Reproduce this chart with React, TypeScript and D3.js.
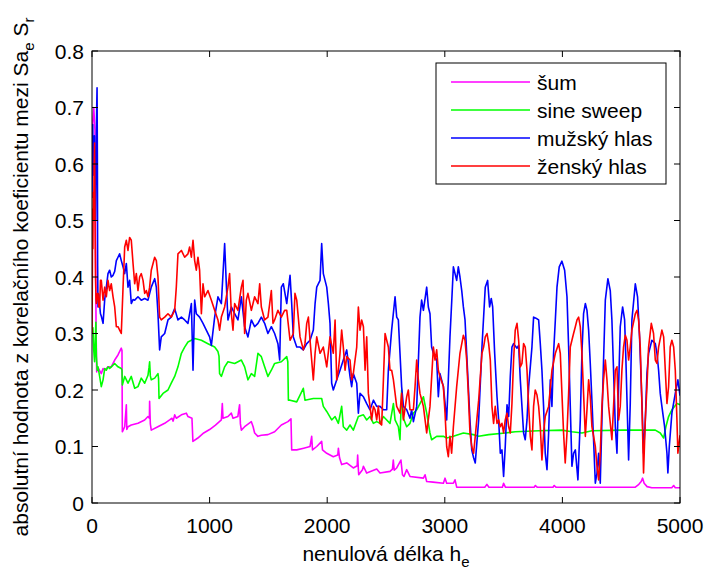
import React from 'react';
import * as d3 from 'd3';

type P = [number, number];

const xTicks = [0, 1000, 2000, 3000, 4000, 5000];
const yTicks = [0, 0.1, 0.2, 0.3, 0.4, 0.5, 0.6, 0.7, 0.8];
const seriesNames = ['šum', 'sine sweep', 'mužský hlas', 'ženský hlas'];
const seriesColors = ['#ff00ff', '#00ff00', '#0000ff', '#ff0000'];

const sumData: P[] = [[0,0.62],[5,0.67],[15,0.70],[25,0.66],[30,0.45],[35,0.30],[40,0.232],[50,0.24],[79,0.229],[94,0.238],[108,0.235],[136,0.241],[164,0.241],[193,0.253],[221,0.262],[249,0.274],[255,0.27],[258,0.126],[278,0.135],[292,0.174],[296,0.13],[306,0.135],[334,0.138],[391,0.141],[448,0.147],[476,0.153],[488,0.15],[490,0.18],[496,0.14],[504,0.129],[560,0.135],[618,0.141],[660,0.147],[680,0.15],[690,0.145],[703,0.156],[717,0.15],[760,0.156],[802,0.159],[816,0.153],[850,0.15],[858,0.109],[900,0.115],[950,0.124],[1000,0.13],[1050,0.138],[1100,0.147],[1108,0.176],[1114,0.15],[1156,0.153],[1185,0.159],[1199,0.15],[1240,0.153],[1255,0.174],[1262,0.14],[1270,0.129],[1298,0.135],[1355,0.144],[1370,0.135],[1383,0.124],[1411,0.118],[1440,0.12],[1496,0.121],[1553,0.126],[1610,0.138],[1666,0.144],[1692,0.149],[1698,0.094],[1741,0.094],[1800,0.097],[1854,0.1],[1868,0.118],[1875,0.094],[1911,0.1],[1953,0.109],[1960,0.094],[1996,0.088],[2052,0.082],[2090,0.085],[2095,0.097],[2105,0.08],[2123,0.068],[2166,0.071],[2222,0.062],[2255,0.066],[2259,0.085],[2265,0.06],[2268,0.05],[2300,0.059],[2308,0.065],[2336,0.053],[2421,0.06],[2449,0.053],[2534,0.056],[2555,0.06],[2562,0.076],[2570,0.058],[2591,0.062],[2627,0.076],[2640,0.05],[2653,0.047],[2676,0.059],[2704,0.047],[2818,0.044],[2832,0.05],[2846,0.038],[2900,0.037],[2988,0.035],[3002,0.044],[3016,0.035],[3073,0.035],[3087,0.041],[3101,0.028],[3340,0.028],[3358,0.033],[3375,0.028],[3490,0.028],[3500,0.035],[3515,0.028],[3760,0.028],[3770,0.031],[3785,0.028],[3920,0.028],[3930,0.031],[3945,0.028],[4620,0.028],[4650,0.033],[4670,0.038],[4682,0.044],[4695,0.035],[4720,0.029],[4760,0.027],[4930,0.027],[4946,0.031],[4960,0.027],[5000,0.027]];

const sineData: P[] = [[0,0.30],[8,0.31],[15,0.27],[22,0.25],[28,0.29],[33,0.32],[37,0.26],[45,0.235],[51,0.241],[65,0.224],[79,0.206],[94,0.218],[108,0.238],[122,0.235],[136,0.241],[150,0.238],[164,0.241],[193,0.247],[221,0.241],[249,0.238],[255,0.235],[258,0.209],[278,0.224],[306,0.212],[334,0.224],[363,0.203],[391,0.206],[419,0.221],[448,0.212],[476,0.226],[485,0.24],[490,0.25],[496,0.225],[504,0.218],[533,0.221],[561,0.229],[566,0.22],[570,0.185],[604,0.194],[646,0.2],[674,0.212],[703,0.224],[731,0.241],[760,0.265],[788,0.276],[816,0.285],[845,0.288],[873,0.291],[930,0.288],[986,0.282],[1043,0.276],[1071,0.268],[1080,0.26],[1085,0.229],[1100,0.224],[1128,0.241],[1156,0.25],[1213,0.247],[1270,0.253],[1298,0.241],[1326,0.218],[1355,0.229],[1383,0.224],[1411,0.265],[1440,0.259],[1468,0.241],[1496,0.224],[1525,0.235],[1553,0.247],[1610,0.25],[1656,0.259],[1665,0.25],[1670,0.182],[1684,0.182],[1741,0.179],[1797,0.203],[1811,0.182],[1882,0.185],[1953,0.185],[1967,0.171],[1996,0.162],[2038,0.147],[2067,0.153],[2095,0.141],[2123,0.171],[2137,0.135],[2166,0.129],[2194,0.138],[2222,0.129],[2265,0.153],[2308,0.156],[2336,0.147],[2364,0.153],[2393,0.141],[2421,0.144],[2449,0.141],[2478,0.153],[2506,0.147],[2534,0.141],[2563,0.176],[2577,0.147],[2605,0.135],[2619,0.112],[2633,0.2],[2648,0.15],[2676,0.135],[2704,0.141],[2733,0.159],[2761,0.165],[2789,0.176],[2818,0.188],[2846,0.159],[2874,0.124],[2888,0.112],[2931,0.118],[2988,0.118],[3016,0.115],[3073,0.118],[3158,0.124],[3243,0.121],[3288,0.118],[3373,0.121],[3514,0.124],[3599,0.126],[3798,0.128],[3996,0.129],[4081,0.126],[4166,0.124],[4251,0.128],[4506,0.129],[4790,0.129],[4832,0.124],[4861,0.115],[4880,0.135],[4903,0.153],[4931,0.165],[4974,0.176],[5000,0.174]];

const muzData: P[] = [[0,0.54],[3,0.62],[6,0.67],[10,0.58],[15,0.6],[20,0.65],[25,0.55],[30,0.5],[35,0.62],[40,0.70],[43,0.735],[46,0.6],[48,0.42],[51,0.347],[58,0.37],[65,0.35],[72,0.335],[80,0.33],[94,0.318],[108,0.36],[122,0.382],[136,0.406],[150,0.412],[164,0.4],[179,0.403],[193,0.41],[207,0.429],[221,0.435],[235,0.441],[249,0.429],[264,0.418],[278,0.406],[292,0.424],[306,0.382],[320,0.394],[334,0.353],[349,0.36],[363,0.359],[391,0.365],[419,0.359],[448,0.362],[476,0.359],[504,0.382],[533,0.397],[547,0.382],[561,0.335],[575,0.271],[589,0.294],[618,0.3],[632,0.312],[646,0.324],[674,0.329],[703,0.344],[731,0.324],[760,0.329],[788,0.324],[816,0.318],[845,0.353],[859,0.235],[873,0.359],[887,0.335],[915,0.329],[944,0.318],[972,0.306],[1000,0.294],[1015,0.279],[1043,0.329],[1071,0.365],[1100,0.353],[1128,0.459],[1142,0.388],[1156,0.324],[1185,0.347],[1213,0.335],[1241,0.324],[1270,0.365],[1298,0.312],[1326,0.294],[1355,0.324],[1383,0.312],[1411,0.318],[1440,0.329],[1468,0.318],[1496,0.3],[1525,0.312],[1553,0.3],[1581,0.282],[1596,0.253],[1610,0.382],[1627,0.388],[1656,0.353],[1684,0.403],[1698,0.353],[1712,0.294],[1741,0.276],[1769,0.276],[1797,0.271],[1826,0.282],[1854,0.288],[1882,0.306],[1897,0.353],[1911,0.382],[1939,0.394],[1953,0.459],[1967,0.406],[1996,0.382],[2010,0.353],[2024,0.318],[2038,0.212],[2052,0.2],[2081,0.218],[2109,0.235],[2137,0.253],[2166,0.271],[2194,0.224],[2208,0.206],[2222,0.229],[2251,0.212],[2265,0.159],[2279,0.194],[2308,0.188],[2336,0.176],[2364,0.165],[2393,0.182],[2421,0.171],[2449,0.171],[2478,0.165],[2506,0.165],[2520,0.235],[2548,0.306],[2577,0.365],[2591,0.329],[2605,0.324],[2619,0.265],[2633,0.206],[2648,0.171],[2676,0.165],[2704,0.15],[2718,0.165],[2733,0.144],[2761,0.171],[2789,0.329],[2803,0.359],[2818,0.341],[2846,0.382],[2860,0.347],[2874,0.335],[2888,0.276],[2903,0.265],[2931,0.253],[2945,0.188],[2959,0.229],[2988,0.206],[3016,0.147],[3030,0.218],[3044,0.294],[3058,0.353],[3073,0.418],[3101,0.394],[3115,0.418],[3129,0.4],[3144,0.376],[3158,0.347],[3172,0.324],[3186,0.265],[3200,0.206],[3214,0.147],[3229,0.094],[3245,0.08],[3259,0.071],[3288,0.147],[3316,0.276],[3344,0.382],[3364,0.394],[3381,0.347],[3395,0.362],[3407,0.347],[3424,0.265],[3444,0.188],[3458,0.147],[3472,0.088],[3486,0.094],[3500,0.047],[3514,0.1],[3529,0.174],[3543,0.153],[3557,0.224],[3571,0.276],[3585,0.282],[3614,0.274],[3628,0.279],[3642,0.218],[3656,0.171],[3670,0.124],[3684,0.112],[3699,0.147],[3713,0.206],[3741,0.276],[3755,0.329],[3784,0.326],[3798,0.324],[3812,0.282],[3826,0.235],[3840,0.171],[3854,0.088],[3869,0.059],[3883,0.124],[3897,0.218],[3911,0.171],[3925,0.265],[3940,0.324],[3954,0.382],[3973,0.418],[3996,0.428],[4019,0.412],[4039,0.365],[4053,0.276],[4067,0.171],[4081,0.065],[4095,0.088],[4110,0.094],[4132,0.041],[4152,0.147],[4166,0.265],[4180,0.335],[4195,0.353],[4209,0.341],[4223,0.306],[4237,0.247],[4251,0.182],[4265,0.112],[4280,0.035],[4294,0.053],[4308,0.088],[4322,0.035],[4336,0.147],[4350,0.253],[4365,0.359],[4387,0.397],[4407,0.376],[4421,0.324],[4435,0.235],[4450,0.135],[4464,0.088],[4478,0.206],[4492,0.312],[4512,0.347],[4529,0.324],[4540,0.253],[4563,0.076],[4577,0.176],[4591,0.324],[4620,0.388],[4639,0.365],[4656,0.294],[4676,0.182],[4690,0.088],[4705,0.147],[4719,0.229],[4733,0.265],[4761,0.288],[4790,0.282],[4804,0.265],[4818,0.235],[4832,0.194],[4846,0.171],[4869,0.135],[4889,0.088],[4897,0.053],[4909,0.1],[4931,0.159],[4960,0.194],[4982,0.218],[5000,0.19]];

const zenData: P[] = [[0,0.30],[3,0.40],[5,0.52],[8,0.45],[10,0.55],[14,0.5],[18,0.6],[22,0.637],[26,0.5],[30,0.4],[34,0.36],[37,0.353],[44,0.37],[51,0.371],[58,0.347],[65,0.347],[72,0.394],[79,0.394],[94,0.359],[108,0.382],[122,0.365],[136,0.394],[150,0.376],[164,0.388],[179,0.365],[193,0.347],[207,0.312],[221,0.312],[235,0.306],[249,0.3],[264,0.382],[278,0.453],[292,0.465],[306,0.447],[320,0.47],[334,0.465],[349,0.424],[363,0.388],[377,0.406],[391,0.376],[405,0.4],[419,0.406],[434,0.394],[448,0.371],[462,0.376],[476,0.365],[490,0.382],[504,0.412],[533,0.435],[547,0.429],[561,0.4],[575,0.329],[589,0.324],[618,0.329],[646,0.335],[674,0.329],[703,0.341],[717,0.382],[731,0.441],[760,0.447],[788,0.435],[816,0.441],[830,0.453],[845,0.435],[859,0.465],[873,0.429],[887,0.412],[901,0.435],[915,0.412],[930,0.335],[944,0.388],[958,0.365],[986,0.376],[1015,0.359],[1043,0.341],[1071,0.324],[1085,0.306],[1100,0.329],[1128,0.347],[1156,0.382],[1170,0.406],[1185,0.335],[1199,0.306],[1213,0.353],[1241,0.341],[1270,0.382],[1284,0.394],[1298,0.3],[1312,0.359],[1326,0.371],[1355,0.341],[1383,0.365],[1411,0.353],[1426,0.388],[1440,0.347],[1468,0.324],[1496,0.329],[1511,0.353],[1525,0.376],[1539,0.318],[1553,0.324],[1581,0.341],[1610,0.329],[1638,0.341],[1656,0.341],[1684,0.288],[1712,0.3],[1726,0.371],[1741,0.359],[1769,0.294],[1797,0.271],[1811,0.282],[1826,0.318],[1840,0.329],[1854,0.288],[1882,0.218],[1897,0.265],[1911,0.294],[1939,0.265],[1967,0.276],[1996,0.241],[2024,0.294],[2052,0.265],[2067,0.324],[2081,0.218],[2095,0.235],[2109,0.265],[2123,0.306],[2137,0.276],[2152,0.235],[2166,0.259],[2194,0.253],[2208,0.218],[2222,0.229],[2251,0.276],[2265,0.347],[2279,0.306],[2293,0.324],[2308,0.312],[2322,0.235],[2336,0.294],[2350,0.194],[2364,0.171],[2378,0.147],[2393,0.171],[2407,0.165],[2421,0.147],[2435,0.171],[2449,0.141],[2463,0.138],[2478,0.218],[2492,0.3],[2506,0.288],[2520,0.276],[2534,0.235],[2548,0.235],[2563,0.218],[2591,0.171],[2619,0.159],[2633,0.194],[2648,0.147],[2676,0.188],[2690,0.2],[2704,0.165],[2733,0.165],[2747,0.206],[2761,0.253],[2775,0.218],[2789,0.194],[2818,0.171],[2846,0.124],[2874,0.171],[2903,0.276],[2917,0.253],[2931,0.271],[2945,0.235],[2959,0.224],[2988,0.206],[3002,0.159],[3016,0.1],[3030,0.082],[3044,0.118],[3058,0.088],[3073,0.135],[3101,0.206],[3129,0.265],[3158,0.297],[3172,0.288],[3186,0.253],[3200,0.194],[3214,0.124],[3229,0.1],[3245,0.088],[3259,0.118],[3288,0.182],[3316,0.265],[3330,0.276],[3344,0.294],[3359,0.3],[3373,0.282],[3387,0.253],[3401,0.171],[3415,0.141],[3429,0.171],[3444,0.141],[3458,0.147],[3472,0.135],[3486,0.141],[3500,0.124],[3514,0.147],[3529,0.159],[3543,0.135],[3557,0.124],[3571,0.176],[3585,0.253],[3599,0.306],[3614,0.318],[3628,0.288],[3642,0.241],[3656,0.247],[3670,0.282],[3684,0.276],[3699,0.235],[3713,0.171],[3727,0.118],[3741,0.094],[3755,0.171],[3769,0.2],[3784,0.191],[3798,0.171],[3812,0.135],[3826,0.076],[3840,0.124],[3854,0.153],[3883,0.171],[3911,0.235],[3940,0.265],[3968,0.282],[3982,0.265],[3996,0.194],[4010,0.124],[4024,0.071],[4039,0.124],[4053,0.194],[4067,0.276],[4081,0.288],[4095,0.3],[4110,0.312],[4124,0.324],[4138,0.329],[4152,0.312],[4166,0.265],[4180,0.194],[4195,0.118],[4209,0.165],[4223,0.218],[4237,0.188],[4251,0.135],[4280,0.1],[4294,0.065],[4308,0.041],[4322,0.088],[4336,0.171],[4350,0.218],[4365,0.253],[4379,0.218],[4393,0.171],[4421,0.112],[4435,0.171],[4450,0.235],[4464,0.241],[4478,0.147],[4492,0.171],[4506,0.235],[4520,0.276],[4535,0.297],[4549,0.288],[4563,0.253],[4577,0.276],[4591,0.306],[4620,0.335],[4634,0.341],[4648,0.324],[4662,0.276],[4676,0.176],[4690,0.053],[4705,0.147],[4719,0.206],[4733,0.276],[4756,0.318],[4775,0.3],[4790,0.253],[4804,0.247],[4818,0.276],[4846,0.306],[4861,0.294],[4875,0.235],[4889,0.176],[4903,0.206],[4917,0.276],[4931,0.288],[4946,0.276],[4960,0.235],[4974,0.147],[4982,0.088],[5000,0.12]];

const allSeries = [sumData, sineData, muzData, zenData];

const FONT = '"Liberation Sans", Arial, Helvetica, sans-serif';

export default function App() {
  const W = 705, H = 569;
  const L = 92, R = 680, T = 51, B = 503;
  const x = d3.scaleLinear().domain([0, 5000]).range([L, R]);
  const y = d3.scaleLinear().domain([0, 0.8]).range([B, T]);
  const line = d3.line<P>().x(d => x(d[0])).y(d => y(d[1]));
  const tl = 6;
  const fmtY = (v: number) => (v === 0 ? '0' : d3.format('.1f')(v));

  const legX = 436, legY = 63, legW = 230, legH = 121;

  return (
    <svg width={W} height={H} style={{ position: 'absolute', left: 0, top: 0, background: '#fff' }} fontFamily={FONT}>
      <rect x={0} y={0} width={W} height={H} fill="#fff" />
      <defs>
        <clipPath id="plotclip">
          <rect x={L} y={T} width={R - L} height={B - T} />
        </clipPath>
      </defs>
      <g clipPath="url(#plotclip)">
        {allSeries.map((s, i) => (
          <path key={i} d={line(s) || ''} fill="none" stroke={seriesColors[i]} strokeWidth={1.6} strokeLinejoin="round" />
        ))}
      </g>
      <rect x={L} y={T} width={R - L} height={B - T} fill="none" stroke="#000" strokeWidth={1} />
      {xTicks.map(t => (
        <g key={'x' + t}>
          <line x1={x(t)} x2={x(t)} y1={B} y2={B - tl} stroke="#000" />
          <line x1={x(t)} x2={x(t)} y1={T} y2={T + tl} stroke="#000" />
          <text x={x(t)} y={533} fontSize={21} textAnchor="middle">{t}</text>
        </g>
      ))}
      {yTicks.map(t => (
        <g key={'y' + t}>
          <line x1={L} x2={L + tl} y1={y(t)} y2={y(t)} stroke="#000" />
          <line x1={R} x2={R - tl} y1={y(t)} y2={y(t)} stroke="#000" />
          <text x={84} y={y(t) + 7.5} fontSize={21} textAnchor="end">{fmtY(t)}</text>
        </g>
      ))}
      <text x={386} y={561} fontSize={21} textAnchor="middle">
        nenulová délka h<tspan fontSize={15} dy={6}>e</tspan>
      </text>
      <text transform="rotate(-90)" x={-277} y={28} fontSize={21} textAnchor="middle">
        absolutní hodnota z korelačního koeficientu mezi Sa<tspan fontSize={15} dy={6}>e</tspan>
        <tspan dy={-6}> S</tspan><tspan fontSize={15} dy={6}>r</tspan>
      </text>
      <rect x={legX} y={legY} width={legW} height={legH} fill="#fff" stroke="#000" strokeWidth={1} />
      {seriesNames.map((n, i) => {
        const cy = 82 + i * 28;
        return (
          <g key={n}>
            <line x1={451} x2={530} y1={cy} y2={cy} stroke={seriesColors[i]} strokeWidth={1.6} />
            <text x={537} y={cy + 7.5} fontSize={21}>{n}</text>
          </g>
        );
      })}
    </svg>
  );
}
